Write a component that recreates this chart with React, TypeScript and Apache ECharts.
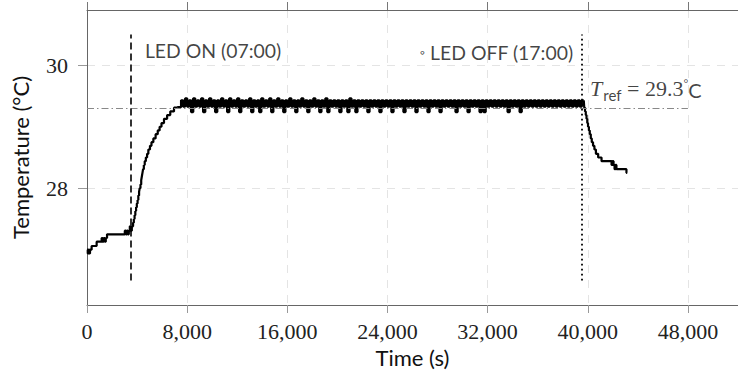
import React, { useEffect, useRef } from 'react';
import * as echarts from 'echarts';

const xTicks = [0, 8000, 16000, 24000, 32000, 40000, 48000];
const yTicks = [28, 30];

const earlyTimes = [0, 60, 120, 180, 240, 370, 770, 1170, 1250, 1330, 1420, 1500, 1600, 3020, 3100, 3180, 3260, 3340, 3420, 3500, 3580];
const earlyTemps = [27.0, 26.94, 27.0, 26.94, 27.0, 27.06, 27.13, 27.19, 27.13, 27.19, 27.13, 27.19, 27.25, 27.31, 27.25, 27.31, 27.25, 27.31, 27.38, 27.31, 27.38];

const riseTimes = [3680, 3740, 3800, 3860, 3920, 3980, 4040, 4100, 4160, 4210, 4270, 4330, 4380, 4430, 4480, 4540, 4610, 4700, 4800, 4900, 5030, 5150, 5300, 5480, 5650, 5800, 5950, 6150, 6400, 6650, 6950, 7200];
const riseTemps = [27.44, 27.5, 27.56, 27.63, 27.69, 27.75, 27.81, 27.88, 27.94, 28.0, 28.06, 28.13, 28.19, 28.25, 28.31, 28.38, 28.44, 28.5, 28.56, 28.63, 28.69, 28.75, 28.81, 28.88, 28.94, 29.0, 29.06, 29.13, 29.19, 29.25, 29.31, 29.32];

const plateauStart = 7200;
const samplePeriod = 160;
const plateauTemps = [
  29.32, 29.32, 29.43, 29.33, 29.46, 29.33, 29.43, 29.24, 29.46, 29.33,
  29.43, 29.33, 29.46, 29.24, 29.43, 29.33, 29.46, 29.33, 29.43, 29.24,
  29.43, 29.33, 29.46, 29.33, 29.43, 29.24, 29.46, 29.33, 29.43, 29.33,
  29.46, 29.24, 29.43, 29.33, 29.43, 29.33, 29.46, 29.24, 29.43, 29.33,
  29.43, 29.24, 29.46, 29.33, 29.43, 29.33, 29.46, 29.24, 29.43, 29.33,
  29.46, 29.33, 29.43, 29.24, 29.43, 29.33, 29.46, 29.33, 29.43, 29.24,
  29.43, 29.33, 29.46, 29.33, 29.43, 29.24, 29.43, 29.33, 29.46, 29.33,
  29.43, 29.24, 29.43, 29.33, 29.46, 29.24, 29.43, 29.33, 29.43, 29.33,
  29.43, 29.24, 29.43, 29.33, 29.43, 29.24, 29.46, 29.33, 29.43, 29.24,
  29.43, 29.33, 29.43, 29.33, 29.43, 29.24, 29.43, 29.33, 29.43, 29.33,
  29.43, 29.24, 29.43, 29.33, 29.43, 29.33, 29.43, 29.24, 29.43, 29.33,
  29.43, 29.33, 29.43, 29.24, 29.43, 29.33, 29.43, 29.33, 29.43, 29.24,
  29.43, 29.33, 29.43, 29.33, 29.43, 29.24, 29.43, 29.33, 29.43, 29.33,
  29.43, 29.24, 29.43, 29.33, 29.43, 29.33, 29.43, 29.33, 29.43, 29.24,
  29.43, 29.33, 29.43, 29.33, 29.43, 29.24, 29.43, 29.33, 29.43, 29.33,
  29.43, 29.24, 29.43, 29.24, 29.43, 29.33, 29.43, 29.33, 29.43, 29.33,
  29.43, 29.33, 29.43, 29.33, 29.43, 29.24, 29.43, 29.33, 29.43, 29.33,
  29.43, 29.24, 29.43, 29.33, 29.43, 29.33, 29.43, 29.33, 29.43, 29.33,
  29.43, 29.33, 29.43, 29.33, 29.43, 29.33, 29.43, 29.33, 29.43, 29.33,
  29.43, 29.33, 29.43, 29.33, 29.43, 29.33, 29.43, 29.33, 29.43, 29.33,
  29.43, 29.33, 29.43, 29.43,
];

const declineTimes = [39680, 39720, 39780, 39840, 39900, 39960, 40020, 40090, 40160, 40240, 40320, 40420, 40530, 40650, 40830, 41100, 41900, 41980, 42060, 42140, 42220, 42290, 43090, 43150];
const declineTemps = [29.43, 29.31, 29.25, 29.19, 29.13, 29.06, 29.0, 28.94, 28.88, 28.81, 28.75, 28.69, 28.63, 28.56, 28.5, 28.44, 28.38, 28.44, 28.38, 28.31, 28.38, 28.31, 28.25, 28.25];

const ledOnTime = 3480;
const ledOffTime = 39520;
const tRef = 29.3;
const markerBottom = 26.5;
const markerTop = 30.5;
const refLineEnd = 48000;

const ledOnLabel = 'LED ON (07:00)';
const ledOffLabel = 'LED OFF (17:00)';
const ledOnLabelPos = [4624, 30.24];
const ledOffLabelPos = [38830, 30.21];
const refLabelPos = [40180, 29.6];

export default function App() {
  const ref = useRef<HTMLDivElement>(null);
  useEffect(() => {
    if (!ref.current) return;
    const chart = echarts.init(ref.current, undefined, { renderer: 'svg' });
    const heatData: [number, number][] = [];
    earlyTimes.forEach((t, i) => heatData.push([t, earlyTemps[i]]));
    riseTimes.forEach((t, i) => heatData.push([t, riseTemps[i]]));
    const plateauData: [number, number][] = plateauTemps.map((v, i) => [plateauStart + i * samplePeriod, v]);
    const coolData: [number, number][] = declineTimes.map((t, i) => [t, declineTemps[i]]);

    const serif = "'Liberation Serif', 'DejaVu Serif', serif";
    const sans = 'Lato';
    const gridLine = { show: true, lineStyle: { color: '#e4e4e4', width: 1, type: [8, 7] as any } };
    const axisLineStyle = { color: '#666', width: 1 };
    const lineSeries = (data: [number, number][], width: number, extra: any = {}) => ({
      type: 'line', data, step: 'end', showSymbol: false, symbol: 'none', z: 3, silent: true,
      lineStyle: { color: '#000', width }, ...extra,
    });

    chart.setOption({
      animation: false,
      backgroundColor: '#fff',
      grid: { left: 87, top: 10, width: 652, height: 295, containLabel: false },
      xAxis: [
        {
          type: 'value', min: 0, max: 52000, position: 'bottom',
          name: 'Time (s)', nameLocation: 'middle', nameGap: 40,
          nameTextStyle: { fontFamily: sans, fontSize: 22, color: '#111' },
          axisLine: { show: true, lineStyle: axisLineStyle },
          axisTick: { show: true, length: 8, customValues: xTicks, lineStyle: { color: '#999' } },
          axisLabel: {
            customValues: xTicks, margin: 15, fontFamily: serif, fontSize: 22, color: '#222',
            formatter: (v: number) => v.toLocaleString('en-US'),
          },
          splitLine: gridLine,
        },
        {
          type: 'value', min: 0, max: 52000, position: 'top',
          axisLine: { show: true, lineStyle: axisLineStyle },
          axisTick: { show: true, length: 8, customValues: xTicks, lineStyle: { color: '#777' } },
          axisLabel: { show: false },
          splitLine: { show: false },
        },
      ],
      yAxis: {
        type: 'value', min: 26.1, max: 30.9,
        name: 'Temperature (°C)', nameLocation: 'middle', nameGap: 56, nameRotate: 90,
        nameTextStyle: { fontFamily: sans, fontSize: 22, color: '#111' },
        axisLine: { show: true, lineStyle: axisLineStyle },
        axisTick: { show: true, length: 9, customValues: yTicks, lineStyle: { color: '#999' } },
        axisLabel: { customValues: yTicks, margin: 19, fontFamily: serif, fontSize: 22, color: '#222' },
        splitLine: gridLine,
      },
      series: [
        {
          type: 'line', silent: true, data: [], z: 1,
          markLine: {
            silent: true, symbol: ['none', 'none'], label: { show: false },
            data: [
              [
                { coord: [0, tRef], lineStyle: { type: [7, 3, 1.5, 3], color: '#888', width: 1 } },
                { coord: [refLineEnd, tRef], lineStyle: { type: [7, 3, 1.5, 3], color: '#888', width: 1 } },
              ],
            ],
          },
        },
        lineSeries(heatData, 2.2, {
          markLine: {
            silent: true, symbol: ['none', 'none'], label: { show: false },
            data: [
              [
                { coord: [ledOnTime, markerBottom], lineStyle: { type: [7, 4], color: '#000', width: 1.6 } },
                { coord: [ledOnTime, markerTop], lineStyle: { type: [7, 4], color: '#000', width: 1.6 } },
              ],
              [
                { coord: [ledOffTime, markerBottom], lineStyle: { type: [1.6, 3.4], color: '#000', width: 1.8 } },
                { coord: [ledOffTime, markerTop], lineStyle: { type: [1.6, 3.4], color: '#000', width: 1.8 } },
              ],
            ],
          },
        }),
        lineSeries(plateauData, 2.4),
        lineSeries(coolData, 2.2),
        {
          type: 'scatter', silent: true, symbolSize: 0, z: 5,
          data: [
            {
              value: ledOnLabelPos,
              label: { show: true, position: 'right', distance: 0, formatter: ledOnLabel, fontFamily: sans, fontSize: 19.4, color: '#111' },
            },
            {
              value: ledOffLabelPos,
              label: {
                show: true, position: 'left', distance: 0, formatter: '{c|◦} ' + ledOffLabel,
                fontFamily: sans, fontSize: 19.4, color: '#111',
                rich: { c: { fontFamily: sans, fontSize: 13, color: '#111' } },
              },
            },
            {
              value: refLabelPos,
              label: {
                show: true, position: 'right', distance: 0,
                formatter: '{t|T}{s|ref}{n| = 29.3}{d|°}{c|C}',
                rich: {
                  t: { fontFamily: serif, fontStyle: 'italic', fontSize: 22, color: '#111', verticalAlign: 'bottom', padding: [0, 1, 3, 0] },
                  s: { fontFamily: sans, fontSize: 15, color: '#111', verticalAlign: 'bottom', padding: [0, 0, 0, 0] },
                  n: { fontFamily: serif, fontSize: 22, color: '#111', verticalAlign: 'bottom', padding: [0, 0, 3, 0] },
                  d: { fontFamily: serif, fontSize: 12, color: '#111', verticalAlign: 'bottom', padding: [0, 0, 14, 0] },
                  c: { fontFamily: sans, fontSize: 20, color: '#111', verticalAlign: 'bottom', padding: [0, 0, 3, 0] },
                },
              },
            },
          ],
        },
      ],
    });
    return () => chart.dispose();
  }, []);
  return <div ref={ref} style={{ position: 'fixed', left: 0, top: 0, width: 738, height: 378 }} />;
}
